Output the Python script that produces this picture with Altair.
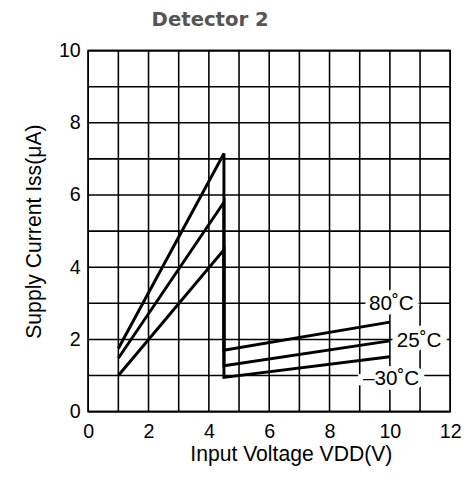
import altair as alt
import pandas as pd

# ---- data ----
x_vals = [1.0, 4.5, 4.5, 10.0]
y_80 = [1.75, 7.15, 1.70, 2.48]
y_25 = [1.48, 5.80, 1.27, 1.96]
y_m30 = [1.00, 4.48, 0.95, 1.52]
series_names = ["80˚C", "25˚C", "–30˚C"]

label_text = ["80˚C", "25˚C", "–30˚C"]
label_x = [10.05, 10.97, 10.04]
label_y = [2.99, 1.95, 0.90]

x_grid = list(range(0, 13))
y_grid = list(range(0, 11))
x_labels = [0, 2, 4, 6, 8, 10, 12]
y_labels = [0, 2, 4, 6, 8, 10]

rows = []
for name, ys in zip(series_names, [y_80, y_25, y_m30]):
    for i, (xv, yv) in enumerate(zip(x_vals, ys)):
        rows.append({"series": name, "idx": i, "V": xv, "I": yv})
df = pd.DataFrame(rows)
labels = pd.DataFrame({"text": label_text, "V": label_x, "I": label_y})
xg = pd.DataFrame({"V": x_grid})
yg = pd.DataFrame({"I": y_grid})

FONT = "Liberation Sans"

xscale = alt.Scale(domain=[0, 12], nice=False)
yscale = alt.Scale(domain=[0, 10], nice=False)

x_enc = alt.X(
    "V:Q", scale=xscale,
    axis=alt.Axis(values=x_labels, title="Input Voltage VDD(V)",
                  titleX=206, titleY=33),
)
y_enc = alt.Y(
    "I:Q", scale=yscale,
    axis=alt.Axis(values=y_labels, title="Supply Current Iss(μA)"),
)

xrules = alt.Chart(xg).mark_rule(color="black", strokeWidth=1.6).encode(
    x=alt.X("V:Q", scale=xscale)
)
yrules = alt.Chart(yg).mark_rule(color="black", strokeWidth=1.6).encode(
    y=alt.Y("I:Q", scale=yscale)
)

lines = alt.Chart(df).mark_line(
    color="black", strokeWidth=3, strokeJoin="miter", strokeCap="butt"
).encode(x=x_enc, y=y_enc, detail="series:N", order="idx:Q")

halo = alt.Chart(labels).mark_text(
    font=FONT, fontSize=21, stroke="white", strokeWidth=10, fill="white",
    baseline="middle", align="center",
).encode(x="V:Q", y="I:Q", text="text:N")

text = alt.Chart(labels).mark_text(
    font=FONT, fontSize=21, color="black", baseline="middle", align="center",
).encode(x="V:Q", y="I:Q", text="text:N")

chart = (
    alt.layer(xrules, yrules, lines, halo, text)
    .properties(
        width=368,
        height=367,
        title=alt.TitleParams(
            "Detector 2", font="DejaVu Sans", fontSize=20, fontWeight="bold",
            color="#555555", anchor="middle", dx=-60, offset=11,
        ),
        autosize=alt.AutoSizeParams(type="none"),
        padding={"left": 81.5, "top": 39.5, "right": 14, "bottom": 54.5},
    )
    .configure_view(stroke="black", strokeWidth=1.6)
    .configure_axis(
        grid=False, domain=False, ticks=False, labelFlush=False,
        labelFont=FONT, labelFontSize=20, labelColor="black",
        titleFont=FONT, titleFontSize=21.5, titleFontWeight="normal",
        titleColor="black",
    )
    .configure_axisX(labelPadding=10)
    .configure_axisY(labelPadding=8, titlePadding=13)
)

chart.save("out.html", embed_options={"renderer": "svg", "actions": False})
